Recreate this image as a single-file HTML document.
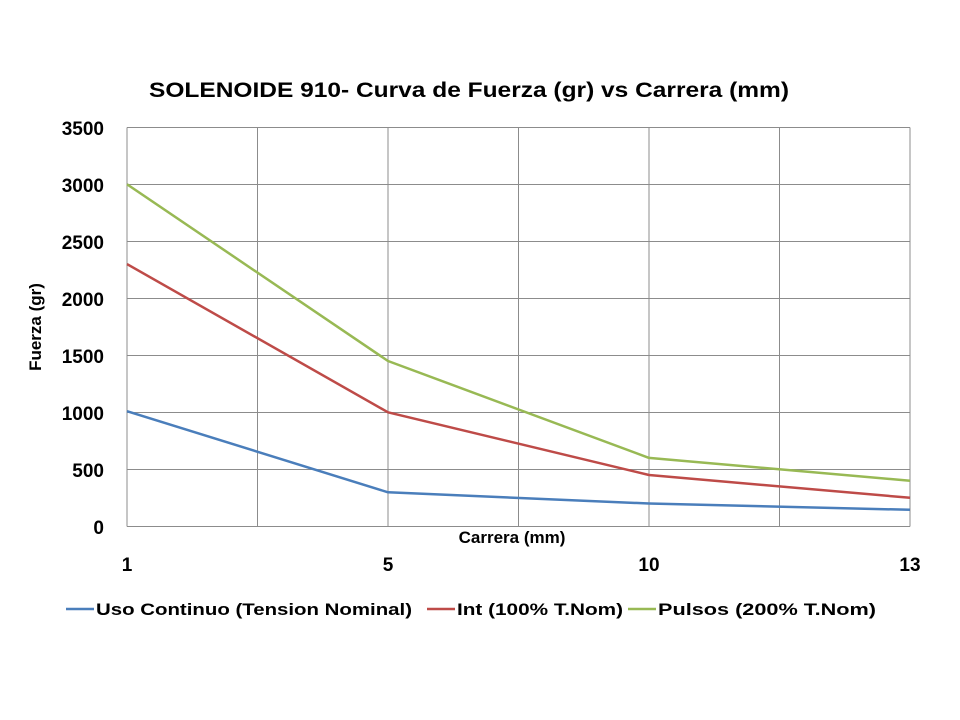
<!DOCTYPE html>
<html><head><meta charset="utf-8"><style>
html,body{margin:0;padding:0;background:#fff;}
svg{display:block;}
text{font-family:"Liberation Sans",sans-serif;font-weight:bold;fill:#000;}
</style></head><body>
<svg width="960" height="720" viewBox="0 0 960 720" xmlns="http://www.w3.org/2000/svg">
<rect width="960" height="720" fill="#fff"/>
<text x="469" y="97" font-size="21" text-anchor="middle" textLength="640" lengthAdjust="spacingAndGlyphs">SOLENOIDE 910- Curva de Fuerza (gr) vs Carrera (mm)</text>
<g stroke="#8c8c8c" stroke-width="1">
<line x1="127" y1="127.5" x2="910" y2="127.5"/>
<line x1="127" y1="184.5" x2="910" y2="184.5"/>
<line x1="127" y1="241.5" x2="910" y2="241.5"/>
<line x1="127" y1="298.5" x2="910" y2="298.5"/>
<line x1="127" y1="355.5" x2="910" y2="355.5"/>
<line x1="127" y1="412.5" x2="910" y2="412.5"/>
<line x1="127" y1="469.5" x2="910" y2="469.5"/>
<line x1="127" y1="526.5" x2="910" y2="526.5"/>
<line x1="127" y1="127.5" x2="127" y2="526.5"/>
<line x1="257.5" y1="127.5" x2="257.5" y2="526.5"/>
<line x1="388" y1="127.5" x2="388" y2="526.5"/>
<line x1="518.5" y1="127.5" x2="518.5" y2="526.5"/>
<line x1="649" y1="127.5" x2="649" y2="526.5"/>
<line x1="779.5" y1="127.5" x2="779.5" y2="526.5"/>
<line x1="910" y1="127.5" x2="910" y2="526.5"/>
</g>
<g font-size="19" text-anchor="end">
<text x="104" y="135">3500</text>
<text x="104" y="192">3000</text>
<text x="104" y="249">2500</text>
<text x="104" y="306">2000</text>
<text x="104" y="363">1500</text>
<text x="104" y="420">1000</text>
<text x="104" y="477">500</text>
<text x="104" y="534">0</text>
</g>
<g font-size="19" text-anchor="middle">
<text x="127" y="571">1</text>
<text x="388" y="571">5</text>
<text x="649" y="571">10</text>
<text x="910" y="571">13</text>
</g>
<text x="512" y="543" font-size="17" text-anchor="middle">Carrera (mm)</text>
<text transform="translate(41,327) rotate(-90)" font-size="17" text-anchor="middle">Fuerza (gr)</text>
<g fill="none" stroke-width="2.5" stroke-linejoin="round">
<polyline stroke="#4a7ebb" points="127,411.2 388,492.3 649,503.5 910,509.8"/>
<polyline stroke="#be4b48" points="127,264.1 388,412.3 649,475 910,497.8"/>
<polyline stroke="#98b954" points="127,184.3 388,361 649,457.9 910,480.7"/>
</g>
<g stroke-width="2.5">
<line x1="66" y1="609" x2="94" y2="609" stroke="#4a7ebb"/>
<line x1="427" y1="609" x2="455" y2="609" stroke="#be4b48"/>
<line x1="628" y1="609" x2="656" y2="609" stroke="#98b954"/>
</g>
<g font-size="17">
<text x="96" y="615" textLength="316" lengthAdjust="spacingAndGlyphs">Uso Continuo (Tension Nominal)</text>
<text x="457" y="615" textLength="166" lengthAdjust="spacingAndGlyphs">Int (100% T.Nom)</text>
<text x="658" y="615" textLength="218" lengthAdjust="spacingAndGlyphs">Pulsos (200% T.Nom)</text>
</g>
</svg>
</body></html>
